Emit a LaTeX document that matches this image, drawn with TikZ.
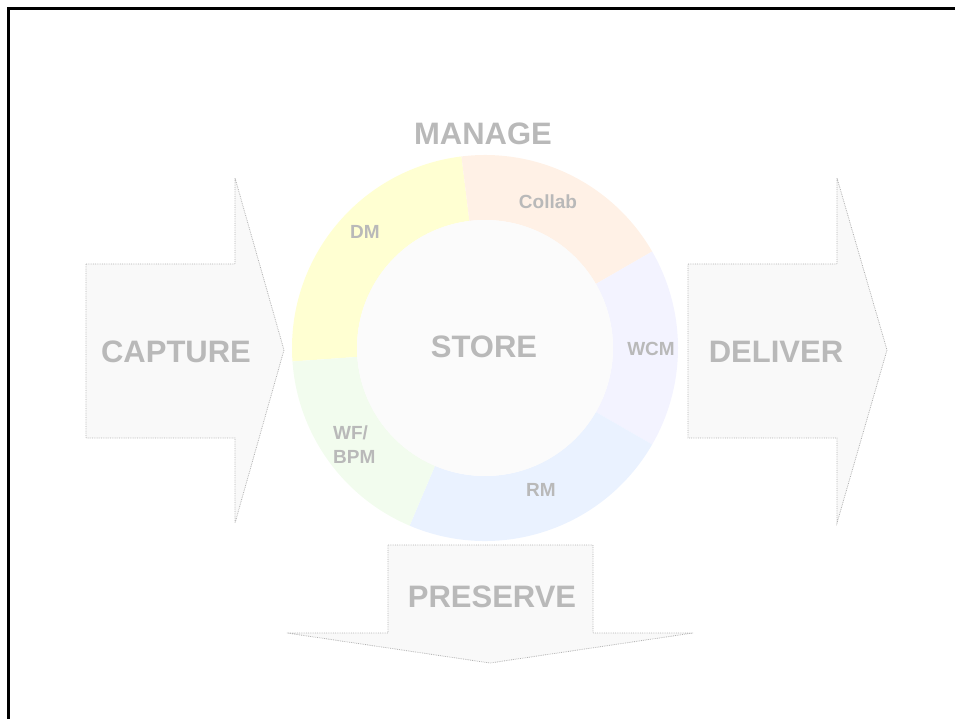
\documentclass[tikz,border=0pt]{standalone}
\usepackage{fontspec}
\setmainfont{Liberation Sans}
\usetikzlibrary{calc}
\begin{document}
\begin{tikzpicture}[x=1pt,y=1pt,
  lbl/.style={text=gray!55, font=\bfseries\fontsize{#1}{#1}\selectfont, inner sep=0pt},
  bigarrow/.style={draw=gray!60, densely dotted, line width=0.8pt, fill=gray!5},
  seg/.style={fill=#1, draw=none}]
\useasboundingbox (0,0) rectangle (955,718);
\definecolor{segyellow}{HTML}{FFFFD2}
\definecolor{segpeach}{HTML}{FFF1E6}
\definecolor{seglav}{HTML}{F3F3FF}
\definecolor{segblue}{HTML}{EAF2FF}
\definecolor{seggreen}{HTML}{F2FCEE}
\definecolor{innerc}{HTML}{FBFBFB}
% frame
\begin{scope}
\clip (0,0) rectangle (955,718);
\draw[line width=2.6pt, black] (8.7,-20) -- (8.7,709.3) -- (980,709.3);
\end{scope}
% arrows
\draw[bigarrow] (86,454) -- (235,454) -- (235,540) -- (284,368) -- (235,195) -- (235,280) -- (86,280) -- cycle;
\draw[bigarrow] (688,454) -- (837,454) -- (837,540) -- (887,368) -- (837,195) -- (837,280) -- (688,280) -- cycle;
\draw[bigarrow] (388,173) -- (593,173) -- (593,85) -- (693,85) -- (490,55) -- (287,85) -- (388,85) -- cycle;
% ring
\coordinate (c) at (485,370);
\foreach \a/\b/\col in {97/184/segyellow, 30/97/segpeach, -30/30/seglav, -113/-30/segblue, 184/247/seggreen}{
  \fill[seg=\col] ($(c)+(\a:193)$) arc[start angle=\a, end angle=\b, radius=193]
     -- ($(c)+(\b:128)$) arc[start angle=\b, end angle=\a, radius=128] -- cycle;
}
\fill[innerc] (c) circle[radius=128];
% labels
\node[lbl=31] (manage) at (483,584) {MANAGE};
\node[lbl=19] (collab) at (548,516) {Collab};
\node[lbl=19] (dm) at (365,486) {DM};
\node[lbl=31] (store) at (484,371) {STORE};
\node[lbl=19] (wcm) at (651,369) {WCM};
\node[lbl=19, align=left, anchor=west] (wf) at (333,273) {WF/\\[5pt]BPM};
\node[lbl=19] (rm) at (541,228) {RM};
\node[lbl=31] (capture) at (176,366) {CAPTURE};
\node[lbl=31] (deliver) at (776,366) {DELIVER};
\node[lbl=31] (preserve) at (492,121) {PRESERVE};
\end{tikzpicture}
\end{document}
